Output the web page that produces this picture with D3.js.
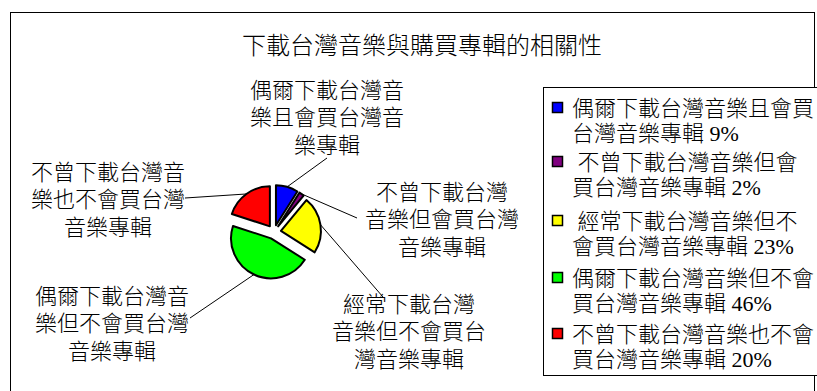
<!DOCTYPE html>
<html>
<head>
<meta charset="utf-8">
<script src="https://cdn.jsdelivr.net/npm/d3@7"></script>
<style>
  html, body { margin: 0; padding: 0; background: #fff; }
  svg { display: block; }
  text { font-family: "Liberation Serif", "Noto Sans CJK TC", serif; font-weight: 300; fill: #000; white-space: pre; }
</style>
</head>
<body>
<svg id="chart" width="817" height="391"></svg>
<script>
// ---- data ----
const title = "下載台灣音樂與購買專輯的相關性";
const categories = [
  "偶爾下載台灣音樂且會買台灣音樂專輯",
  "不曾下載台灣音樂但會買台灣音樂專輯",
  "經常下載台灣音樂但不會買台灣音樂專輯",
  "偶爾下載台灣音樂但不會買台灣音樂專輯",
  "不曾下載台灣音樂也不會買台灣音樂專輯"
];
const values = [9, 2, 23, 46, 20];
const colors = ["#0000ff", "#800080", "#ffff00", "#00ff00", "#ff0000"];
// wrapped label lines next to the pie
const pieLabelLines = [
  ["偶爾下載台灣音", "樂且會買台灣音", "樂專輯"],
  ["不曾下載台灣", "音樂但會買台灣", "音樂專輯"],
  ["經常下載台灣", "音樂但不會買台", "灣音樂專輯"],
  ["偶爾下載台灣音", "樂但不會買台灣", "音樂專輯"],
  ["不曾下載台灣音", "樂也不會買台灣", "音樂專輯"]
];
// wrapped legend lines
const legendLines = [
  ["偶爾下載台灣音樂且會買", "台灣音樂專輯 9%"],
  [" 不曾下載台灣音樂但會", "買台灣音樂專輯 2%"],
  [" 經常下載台灣音樂但不", "會買台灣音樂專輯 23%"],
  ["偶爾下載台灣音樂但不會", "買台灣音樂專輯 46%"],
  ["不曾下載台灣音樂也不會", "買台灣音樂專輯 20%"]
];

// ---- layout ----
const svg = d3.select("#chart");
const cx = 274, cy = 232, R = 40, explode = 7;
const lineH = 27.5;
// label anchors: center x, first-line center y, leader end point
const labelLayout = [
  { x: 327, y: 90,  lx: 327, ly: 158 },
  { x: 442, y: 192, lx: 357, ly: 218 },
  { x: 409, y: 304, lx: 383, ly: 297 },
  { x: 112, y: 296, lx: 190, ly: 318 },
  { x: 108, y: 172, lx: 185, ly: 198 }
];

// outer frame
svg.append("rect")
  .attr("x", 10.5).attr("y", 12.5)
  .attr("width", 804).attr("height", 400)
  .attr("fill", "#fff").attr("stroke", "#000").attr("stroke-width", 1);

// title
svg.append("text")
  .attr("x", 422).attr("y", 46)
  .attr("text-anchor", "middle")
  .attr("dominant-baseline", "central")
  .style("font-size", "24px")
  .text(title);

// pie
const pie = d3.pie().sort(null).value(d => d)(values);
const arc = d3.arc().innerRadius(0).outerRadius(R);
const g = svg.append("g").attr("transform", `translate(${cx},${cy})`);

function midAngle(d) { return (d.startAngle + d.endAngle) / 2; }
function offset(d, r) {
  const a = midAngle(d);
  return [Math.sin(a) * r, -Math.cos(a) * r];
}

// leader lines (drawn first, under slices)
svg.append("g").selectAll("line")
  .data(pie)
  .join("line")
  .attr("x1", (d, i) => cx + offset(d, explode)[0] + offset(d, R)[0])
  .attr("y1", (d, i) => cy + offset(d, explode)[1] + offset(d, R)[1])
  .attr("x2", (d, i) => labelLayout[i].lx)
  .attr("y2", (d, i) => labelLayout[i].ly)
  .attr("stroke", "#000").attr("stroke-width", 1);

g.selectAll("path")
  .data(pie)
  .join("path")
  .attr("transform", d => `translate(${offset(d, explode)[0]},${offset(d, explode)[1]})`)
  .attr("d", arc)
  .attr("fill", (d, i) => colors[i])
  .attr("stroke", "#000")
  .attr("stroke-width", 2)
  .attr("stroke-linejoin", "round");

// pie labels
pieLabelLines.forEach((lines, i) => {
  const L = labelLayout[i];
  const t = svg.append("text")
    .attr("text-anchor", "middle")
    .style("font-size", "22px");
  lines.forEach((ln, j) => {
    t.append("tspan")
      .attr("x", L.x)
      .attr("y", L.y + j * lineH)
      .attr("dominant-baseline", "central")
      .text(ln);
  });
});

// legend
const lgX = 543, lgY = 87;
svg.append("rect")
  .attr("x", lgX + 0.5).attr("y", lgY + 0.5)
  .attr("width", 300).attr("height", 288)
  .attr("fill", "#fff").attr("stroke", "#000").attr("stroke-width", 1);

const itemY = [108, 162, 221, 278, 334];
const legendG = svg.append("g");
legendLines.forEach((lines, i) => {
  legendG.append("rect")
    .attr("x", 552.5).attr("y", itemY[i] - 5.5)
    .attr("width", 10).attr("height", 10)
    .attr("fill", colors[i]).attr("stroke", "#000").attr("stroke-width", 1.5);
  const t = legendG.append("text").style("font-size", "22px");
  lines.forEach((ln, j) => {
    t.append("tspan")
      .attr("x", 572)
      .attr("y", itemY[i] + j * 25)
      .attr("dominant-baseline", "central")
      .text(ln);
  });
});
</script>
</body>
</html>
